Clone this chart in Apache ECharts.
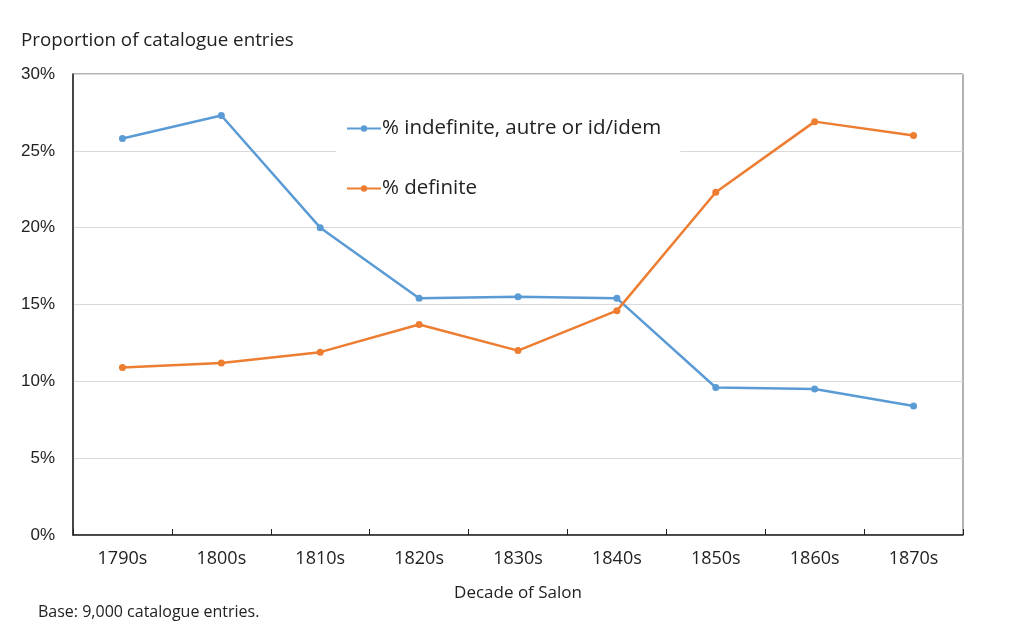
<!DOCTYPE html>
<html>
<head>
<meta charset="utf-8">
<script src="https://cdn.jsdelivr.net/npm/echarts@6/dist/echarts.min.js"></script>
<style>html,body{margin:0;padding:0;background:#fff;}#c{width:1024px;height:636px;}</style>
</head>
<body>
<div id="c"></div>
<script>
const categories = ['1790s','1800s','1810s','1820s','1830s','1840s','1850s','1860s','1870s'];
const indefinite = [25.8, 27.3, 20.0, 15.4, 15.5, 15.4, 9.6, 9.5, 8.4];
const definite = [10.9, 11.2, 11.9, 13.7, 12.0, 14.6, 22.3, 26.9, 26.0];
const seriesNames = ['% indefinite, autre or id/idem', '% definite'];
const yTicks = [0, 5, 10, 15, 20, 25, 30];

const chart = echarts.init(document.getElementById('c'));
const font = '"Open Sans", Lato, sans-serif';
chart.setOption({
  animation: false,
  backgroundColor: '#fff',
  grid: { left: 73, right: 61, top: 74, bottom: 101, show: true, borderColor: '#666', borderWidth: 1 },
  title: [
    { text: 'Proportion of catalogue entries', left: 16, top: 26, textStyle: { fontFamily: font, fontSize: 18.8, fontWeight: 'normal', color: '#222' } },
    { text: 'Base: 9,000 catalogue entries.', left: 33, top: 599, textStyle: { fontFamily: font, fontSize: 16, fontWeight: 'normal', color: '#222' } }
  ],
  legend: {
    orient: 'vertical', left: 336, top: 112, itemGap: 39,
    padding: [6, 19, 12, 10],
    backgroundColor: '#fff',
    itemWidth: 34, itemHeight: 8,
    textStyle: { fontFamily: font, fontSize: 20.5, color: '#222', padding: [0,0,0,-4] },
    data: seriesNames
  },
  xAxis: {
    type: 'category', data: categories, boundaryGap: true,
    name: 'Decade of Salon', nameLocation: 'middle', nameGap: 50,
    nameTextStyle: { fontFamily: font, fontSize: 17, color: '#222' },
    axisLine: { lineStyle: { color: '#222', width: 1.5 } },
    axisTick: { show: true, inside: true, length: 6, alignWithLabel: false, lineStyle: { color: '#222' } },
    axisLabel: { fontFamily: font, fontSize: 18, color: '#222', margin: 15 },
    splitLine: { show: false }
  },
  yAxis: {
    type: 'value', min: 0, max: 30, interval: 5,
    axisLine: { show: true, lineStyle: { color: '#222', width: 1.5 } },
    axisTick: { show: false },
    axisLabel: { fontFamily: 'Liberation Sans, Arial, sans-serif', fontSize: 17, color: '#222', margin: 18, formatter: v => yTicks.includes(v) ? v + '%' : '' },
    splitLine: { lineStyle: { color: '#d9d9d9', width: 1 } }
  },
  series: [
    { name: seriesNames[0], type: 'line', data: indefinite, symbol: 'circle', symbolSize: 7,
      itemStyle: { color: '#5B9BD5' }, lineStyle: { color: '#5B9BD5', width: 2.5 } },
    { name: seriesNames[1], type: 'line', data: definite, symbol: 'circle', symbolSize: 7,
      itemStyle: { color: '#ED7D31' }, lineStyle: { color: '#ED7D31', width: 2.5 } }
  ]
});
</script>
</body>
</html>
